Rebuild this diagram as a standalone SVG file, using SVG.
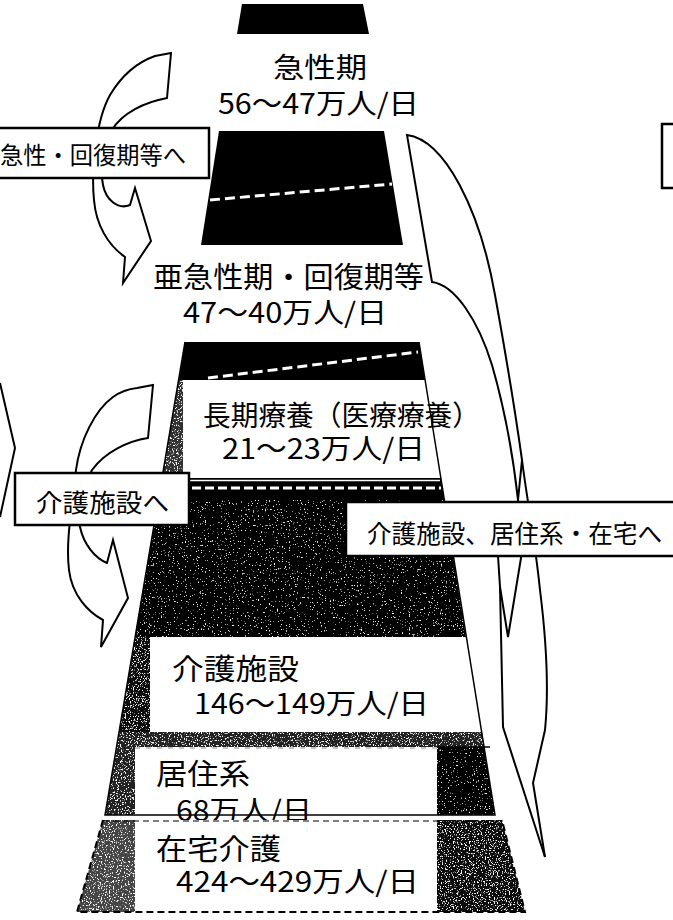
<svg xmlns="http://www.w3.org/2000/svg" width="673" height="920" viewBox="0 0 673 920">
<defs>
<style>
.lbl{font-family:"Noto Sans CJK JP","Noto Sans",sans-serif;fill:#000;}
.box{fill:#fff;stroke:#000;stroke-width:2.5;}
.arw{fill:#fff;stroke:#000;stroke-width:2;stroke-linejoin:miter;}
.arl{fill:none;stroke:#000;stroke-width:2;stroke-linejoin:miter;}
.blk{fill:#000;}
.wht{fill:#fff;}
.wdash{stroke:#fff;stroke-width:3;stroke-dasharray:10 5;fill:none;}
.edge{fill:none;stroke:#000;stroke-width:1.5;}
</style>
<filter id="dark" x="0" y="0" width="100%" height="100%">
<feTurbulence type="fractalNoise" baseFrequency="0.75" numOctaves="2" seed="4" result="t"/>
<feColorMatrix in="t" type="matrix" values="0 0 0 0 1 0 0 0 0 1 0 0 0 0 1 10 0 0 0 -6.7" result="w"/>
<feComposite in="w" in2="SourceAlpha" operator="in" result="wc"/>
<feMerge><feMergeNode in="SourceGraphic"/><feMergeNode in="wc"/></feMerge>
</filter>
<filter id="mid" x="0" y="0" width="100%" height="100%">
<feTurbulence type="fractalNoise" baseFrequency="0.75" numOctaves="2" seed="9" result="t"/>
<feColorMatrix in="t" type="matrix" values="0 0 0 0 1 0 0 0 0 1 0 0 0 0 1 10 0 0 0 -5.9" result="w"/>
<feComposite in="w" in2="SourceAlpha" operator="in" result="wc"/>
<feMerge><feMergeNode in="SourceGraphic"/><feMergeNode in="wc"/></feMerge>
</filter>
</defs>
<rect width="673" height="920" fill="#fff"/>

<!-- connectors (block arrows) -->
<g id="connectors">
<path class="arw" d="M155,56 L171,53 L167,98 C145,102 122,113 112,130 C104,145 100,170 103,185 C106,200 118,210 130,205 L135,188 L151,241 L123,283 L125,257 C108,245 96,225 94,200 C91,170 96,120 110,95 C122,75 138,62 155,56 Z"/>
<path class="arw" d="M137,388 L153,385 L148,438 C128,441 105,452 92,470 C82,490 77,512 80,527 C84,545 95,558 107,563 L113,540 L128,598 L101,647 L103,620 C88,612 72,595 69,570 C66,545 70,520 76,470 C80,440 95,410 113,397 C120,392 128,389 137,388 Z"/>
<polyline class="arl" points="0,383 15,448 0,517"/>
<path class="arw" d="M407,135 C445,140 480,210 495,295 C505,350 515,410 522,460 L518,500 C513,455 505,410 492,365 C478,320 455,285 432,282 Z"/>
<path class="arl" d="M522,460 C527,500 535,540 540,590 C545,630 550,680 545,730 L533,783 L545,857"/>
<path class="arl" d="M497,540 L500,587 L503,727 L545,857"/>
<path class="arl" d="M518,500 L521,558 L508,637 L500,587"/>
</g>

<!-- pyramid sections -->
<g id="acute">
<polygon class="blk" points="242,4 363,4 369,34 237,34"/>
<text class="lbl" x="273" y="78" font-size="28" textLength="94" lengthAdjust="spacingAndGlyphs">急性期</text>
<text class="lbl" x="218" y="114" font-size="28" textLength="201" lengthAdjust="spacingAndGlyphs">56～47万人/日</text>
</g>

<g id="subacute">
<polygon class="blk" points="219,131 384,131 403,245 201,245"/>
<line class="wdash" x1="210" y1="200" x2="392" y2="184"/>
<text class="lbl" x="153" y="288" font-size="29" textLength="271" lengthAdjust="spacingAndGlyphs">亜急性期・回復期等</text>
<text class="lbl" x="183" y="323" font-size="28" textLength="204" lengthAdjust="spacingAndGlyphs">47～40万人/日</text>
</g>

<g id="longterm">
<polygon class="blk" points="185,342 419,342 425,380 179,380"/>
<line class="wdash" x1="208" y1="378" x2="418" y2="352"/>
<polygon fill="#333" filter="url(#mid)" points="179,380 183,380 183,478 162,478"/>
<polygon class="wht" points="183,380 425,380 441,478 183,478"/>
<text class="lbl" x="203" y="426" font-size="28" textLength="277" lengthAdjust="spacingAndGlyphs">長期療養（医療療養）</text>
<text class="lbl" x="222" y="459" font-size="28" textLength="203" lengthAdjust="spacingAndGlyphs">21～23万人/日</text>
</g>

<g id="care-facility">
<polygon class="blk" points="162,478 441,478 444,500 158,500"/>
<line x1="182" y1="480.5" x2="440" y2="480.5" stroke="#fff" stroke-width="1.5"/>
<line class="wdash" x1="192" y1="488" x2="441" y2="488" style="stroke-dasharray:9 4"/>
<polygon fill="#000" filter="url(#dark)" points="158,500 444,500 466,637 135,637"/>
<polygon fill="#111" filter="url(#mid)" points="135,637 150,637 150,732 119,732"/>
<polygon class="wht" points="150,637 466,637 482,732 150,732"/>
<polygon fill="#222" filter="url(#mid)" points="119,732 482,732 484,747 117,747"/>
<text class="lbl" x="172" y="680" font-size="29" textLength="127" lengthAdjust="spacingAndGlyphs">介護施設</text>
<text class="lbl" x="194" y="714" font-size="28" textLength="235" lengthAdjust="spacingAndGlyphs">146～149万人/日</text>
</g>

<g id="residential">
<polygon fill="#222" filter="url(#mid)" points="117,747 135,747 135,815 105,815"/>
<rect class="wht" x="135" y="747" width="302" height="68"/>
<polygon fill="#000" filter="url(#dark)" points="437,747 484,747 495,815 437,815"/>
<line x1="135" y1="748" x2="437" y2="748" stroke="#888" stroke-width="1" stroke-dasharray="5 6"/>
<line x1="437" y1="747" x2="490" y2="747" stroke="#000" stroke-width="1.5"/>
<text class="lbl" x="156" y="785" font-size="29" textLength="94" lengthAdjust="spacingAndGlyphs">居住系</text>
<text class="lbl" x="176" y="821" font-size="28" textLength="136" lengthAdjust="spacingAndGlyphs">68万人/日</text>
</g>

<g id="home-care">
<polygon fill="#444" filter="url(#mid)" points="103,820 135,820 135,912 77,912"/>
<rect class="wht" x="135" y="820" width="302" height="92"/>
<polygon fill="#111" filter="url(#mid)" points="437,820 502,820 525,912 437,912"/>
<line x1="103" y1="821" x2="502" y2="821" stroke="#000" stroke-width="1.2" stroke-dasharray="6 4"/>
<polyline points="103,820 77,912 525,912 502,820" fill="none" stroke="#000" stroke-width="2" stroke-dasharray="7 4"/>
<text class="lbl" x="156" y="860" font-size="29" textLength="125" lengthAdjust="spacingAndGlyphs">在宅介護</text>
<text class="lbl" x="176" y="892" font-size="28" textLength="243" lengthAdjust="spacingAndGlyphs">424～429万人/日</text>
</g>

<g id="pyramid-outline">
<polyline class="edge" points="185,342 105,815 495,815 419,342"/>
</g>

<!-- label boxes -->
<g id="box-subacute">
<rect class="box" x="-3" y="128" width="212" height="50"/>
<text class="lbl" x="0" y="164" font-size="24" textLength="186" lengthAdjust="spacingAndGlyphs">急性・回復期等へ</text>
</g>
<g id="box-care">
<rect class="box" x="15" y="473" width="174" height="52"/>
<text class="lbl" x="36" y="512" font-size="25" textLength="133" lengthAdjust="spacingAndGlyphs">介護施設へ</text>
</g>
<g id="box-home">
<rect class="box" x="346" y="502" width="340" height="54"/>
<text class="lbl" x="367" y="543" font-size="25" textLength="295" lengthAdjust="spacingAndGlyphs">介護施設、居住系・在宅へ</text>
</g>
<g id="box-right">
<rect class="box" x="662" y="124" width="30" height="64"/>
</g>
</svg>
